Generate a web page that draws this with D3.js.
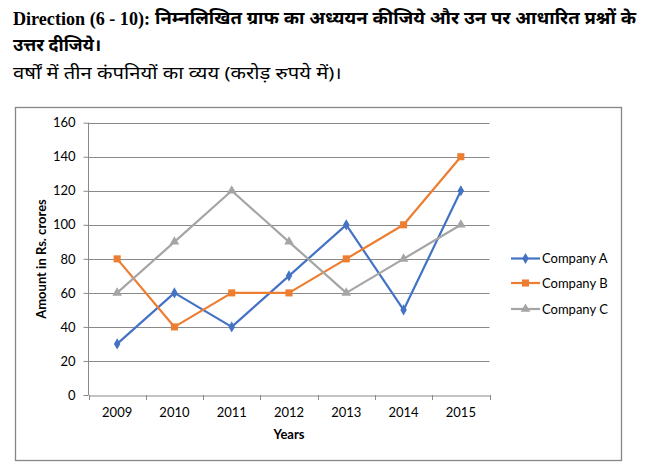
<!DOCTYPE html>
<html><head><meta charset="utf-8">
<script src="https://cdn.jsdelivr.net/npm/d3@7"></script>
<style>body{margin:0;background:#fff}</style>
</head><body>
<svg id="c" width="655" height="471"></svg>
<script>
const years = ["2009","2010","2011","2012","2013","2014","2015"];
const companyA = [30,60,40,70,100,50,120];
const companyB = [80,40,60,60,80,100,140];
const companyC = [60,90,120,90,60,80,100];
const seriesNames = ["Company A","Company B","Company C"];
const yTicks = [0,20,40,60,80,100,120,140,160];

const svg = d3.select("#c");
const colors = ["#4472C4","#ED7D31","#A5A5A5"];
const series = [companyA, companyB, companyC];
const font = "Lato, 'Open Sans', sans-serif";
const hindi = "'Noto Sans', sans-serif";

// header
svg.append("text").attr("x",13).attr("y",25).attr("font-weight","bold").attr("font-size",18)
  .attr("font-family","'Liberation Serif', serif").attr("textLength",137).attr("lengthAdjust","spacingAndGlyphs")
  .text("Direction (6 - 10):");
svg.append("text").attr("x",155).attr("y",24).attr("font-weight","bold").attr("font-size",17)
  .attr("font-family",hindi).attr("textLength",481).attr("lengthAdjust","spacingAndGlyphs")
  .text("निम्नलिखित ग्राफ का अध्ययन कीजिये और उन पर आधारित प्रश्नों के");
svg.append("text").attr("x",13).attr("y",51).attr("font-weight","bold").attr("font-size",17)
  .attr("font-family",hindi).attr("textLength",88).attr("lengthAdjust","spacingAndGlyphs")
  .text("उत्तर दीजिये।");
svg.append("text").attr("x",13).attr("y",79).attr("font-size",17)
  .attr("font-family",hindi).attr("textLength",329).attr("lengthAdjust","spacingAndGlyphs")
  .text("वर्षों में तीन कंपनियों का व्यय (करोड़ रुपये में)।");

// chart border
svg.append("rect").attr("x",15.5).attr("y",107.5).attr("width",606).attr("height",353)
  .attr("fill","none").attr("stroke","#868686").attr("stroke-width",1.3);

const x = d3.scaleBand().domain(years).range([88.5, 489.5]);
const y = d3.scaleLinear().domain([0,160]).range([395, 122.7]);

// gridlines
svg.append("g").selectAll("line").data(yTicks.filter(d=>d>0)).join("line")
  .attr("x1",88.5).attr("x2",489.5).attr("y1",d=>Math.round(y(d))+0.5).attr("y2",d=>Math.round(y(d))+0.5)
  .attr("stroke","#898989").attr("stroke-width",1);

// y axis
const yAxis = svg.append("g").attr("transform","translate(88.5,0)")
  .call(d3.axisLeft(y).tickValues(yTicks).tickSize(5).tickPadding(8));
yAxis.select(".domain").attr("stroke","#898989").attr("d","M0,122.7V395");
yAxis.selectAll(".tick line").attr("stroke","#898989");
yAxis.selectAll(".tick text").attr("font-family",font).attr("font-size",13).attr("fill","#000");

// x axis
const xAxis = svg.append("g").attr("transform","translate(0,395.5)")
  .call(d3.axisBottom(x).tickSize(0).tickPadding(12));
xAxis.select(".domain").attr("stroke","#898989");
xAxis.selectAll(".tick text").attr("font-family",font).attr("font-size",13).attr("fill","#000");
const bounds = years.map(d=>x(d)).concat([x.range()[1]]);
svg.append("g").selectAll("line").data(bounds).join("line")
  .attr("x1",d=>Math.round(d)+0.5).attr("x2",d=>Math.round(d)+0.5).attr("y1",395).attr("y2",400)
  .attr("stroke","#898989");

// axis titles
svg.append("text").attr("x",289).attr("y",439).attr("text-anchor","middle")
  .attr("font-family",font).attr("font-weight","bold").attr("font-size",13).text("Years");
svg.append("text").attr("transform","translate(46,259) rotate(-90)").attr("text-anchor","middle")
  .attr("font-family",font).attr("font-weight","bold").attr("font-size",13).text("Amount in Rs. crores");

const cx = d => x(d) + x.bandwidth()/2;
const line = d3.line().x((d,i)=>cx(years[i])).y(d=>y(d));
const symbols = [d3.symbolDiamond, d3.symbolSquare, d3.symbolTriangle];
const sizes = [36, 50, 40];

series.forEach((s,k)=>{
  svg.append("path").datum(s).attr("d",line).attr("fill","none")
    .attr("stroke",colors[k]).attr("stroke-width",2.2).attr("stroke-linejoin","round");
  svg.append("g").selectAll("path").data(s).join("path")
    .attr("transform",(d,i)=>`translate(${cx(years[i])},${y(d)})`)
    .attr("d",d3.symbol().type(symbols[k]).size(sizes[k])).attr("fill",colors[k]);
});

// legend
const legY = [258.5, 283, 309];
seriesNames.forEach((n,k)=>{
  const g = svg.append("g").attr("transform",`translate(0,${legY[k]})`);
  g.append("line").attr("x1",511).attr("x2",540).attr("stroke",colors[k]).attr("stroke-width",2.2);
  g.append("path").attr("transform","translate(525.5,0)").attr("d",d3.symbol().type(symbols[k]).size(sizes[k])).attr("fill",colors[k]);
  g.append("text").attr("x",542).attr("y",4.5).attr("font-family",font).attr("font-size",13).text(n);
});
</script>
</body></html>
